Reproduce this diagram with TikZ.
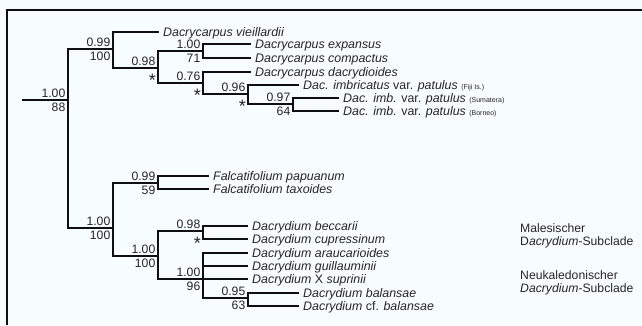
\documentclass[tikz,border=0pt]{standalone}
\usepackage{fontspec}
\setmainfont{Liberation Sans}
\definecolor{bg}{RGB}{247,252,252}
\definecolor{ink}{RGB}{38,38,38}
\definecolor{edge}{RGB}{15,15,15}
\begin{document}
\begin{tikzpicture}[x=1pt,y=-1pt,
  branch/.style={line width=1.8pt, draw=edge, line join=miter, line cap=rect},
  frameline/.style={line width=2pt, draw=edge},
  taxon/.style={anchor=west, inner xsep=5pt, inner ysep=0pt, text height=12pt, text depth=3pt,
    font=\fontsize{12.4}{14}\selectfont\itshape, text=ink},
  toplab/.style={anchor=base east, inner sep=0pt, xshift=-2.5pt, yshift=2.5pt,
    font=\fontsize{12.2}{14}\selectfont, text=ink},
  botlab/.style={anchor=base east, inner sep=0pt, xshift=-2.5pt, yshift=-11pt,
    font=\fontsize{12.2}{14}\selectfont, text=ink},
  asterlab/.style={anchor=base east, inner sep=0pt, xshift=-2pt, yshift=-18pt,
    font=\fontsize{18}{18}\selectfont, text=ink},
  cladelab/.style={anchor=base west, inner sep=0pt, font=\fontsize{12.2}{14}\selectfont, text=ink}]
\newcommand\paren[1]{{\upshape\fontsize{7}{8}\selectfont #1}}
\useasboundingbox (0,0) rectangle (642,325);
\fill[bg] (0,0) rectangle (642,325);
% frame
\draw[frameline] (7,325) -- (7,10) -- (642,10);

% internal nodes
\coordinate (rootstub) at (23,100);
\coordinate (R) at (68,100);
\coordinate (A) at (113,49);
\coordinate (B) at (158,68);
\coordinate (C) at (203,51);
\coordinate (D) at (203,83);
\coordinate (E) at (248,94);
\coordinate (F) at (293,104);
\coordinate (G) at (113,228);
\coordinate (H) at (158,183);
\coordinate (I) at (158,256);
\coordinate (J) at (203,231);
\coordinate (K) at (203,279);
\coordinate (L) at (248,298);

% leaves
\node[taxon] (vie) at (158,32) {Dacrycarpus vieillardii};
\node[taxon] (exp) at (250,44) {Dacrycarpus expansus};
\node[taxon] (com) at (250,58) {Dacrycarpus compactus};
\node[taxon] (dac) at (250,72) {Dacrycarpus dacrydioides};
\node[taxon] (fij) at (298,85) {Dac. imbricatus \textup{var.} patulus \paren{(Fiji Is.)}};
\node[taxon] (sum) at (338,98) {Dac. imb. \textup{var.} patulus \paren{(Sumatera)}};
\node[taxon] (bor) at (338,111) {Dac. imb. \textup{var.} patulus \paren{(Borneo)}};
\node[taxon] (pap) at (208,176) {Falcatifolium papuanum};
\node[taxon] (tax) at (208,189) {Falcatifolium taxoides};
\node[taxon] (bec) at (247,226) {Dacrydium beccarii};
\node[taxon] (cup) at (247,239) {Dacrydium cupressinum};
\node[taxon] (ara) at (247,253) {Dacrydium araucarioides};
\node[taxon] (gui) at (247,266) {Dacrydium guillauminii};
\node[taxon] (sup) at (247,279) {Dacrydium \textup{X} suprinii};
\node[taxon] (bal) at (298,293) {Dacrydium balansae};
\node[taxon] (cfb) at (298,306) {Dacrydium \textup{cf.} balansae};

% branches
\draw[branch] (rootstub) -- (R);
\draw[branch] (R) |- (A);
\draw[branch] (R) |- (G);
\draw[branch] (A) |- (vie.west);
\draw[branch] (A) |- (B);
\draw[branch] (B) |- (C);
\draw[branch] (B) |- (D);
\draw[branch] (C) |- (exp.west);
\draw[branch] (C) |- (com.west);
\draw[branch] (D) |- (dac.west);
\draw[branch] (D) |- (E);
\draw[branch] (E) |- (fij.west);
\draw[branch] (E) |- (F);
\draw[branch] (F) |- (sum.west);
\draw[branch] (F) |- (bor.west);
\draw[branch] (G) |- (H);
\draw[branch] (G) |- (I);
\draw[branch] (H) |- (pap.west);
\draw[branch] (H) |- (tax.west);
\draw[branch] (I) |- (J);
\draw[branch] (I) |- (K);
\draw[branch] (J) |- (bec.west);
\draw[branch] (J) |- (cup.west);
\draw[branch] (K) |- (ara.west);
\draw[branch] (K) |- (gui.west);
\draw[branch] (K) -- (sup.west);
\draw[branch] (K) |- (L);
\draw[branch] (L) |- (bal.west);
\draw[branch] (L) |- (cfb.west);

% support values
\node[toplab] (R1) at (R) {1.00};  \node[botlab] (R2) at (R) {88};
\node[toplab] (A1) at (A) {0.99};  \node[botlab] (A2) at (A) {100};
\node[toplab] (B1) at (B) {0.98};  \node[asterlab] (B2) at (B) {*};
\node[toplab] (C1) at (C) {1.00};  \node[botlab] (C2) at (C) {71};
\node[toplab] (D1) at (D) {0.76};  \node[asterlab] (D2) at (D) {*};
\node[toplab] (E1) at (E) {0.96};  \node[asterlab] (E2) at (E) {*};
\node[toplab] (F1) at (F) {0.97};  \node[botlab] (F2) at (F) {64};
\node[toplab] (G1) at (G) {1.00};  \node[botlab] (G2) at (G) {100};
\node[toplab] (H1) at (H) {0.99};  \node[botlab] (H2) at (H) {59};
\node[toplab] (I1) at (I) {1.00};  \node[botlab] (I2) at (I) {100};
\node[toplab] (J1) at (J) {0.98};  \node[asterlab] (J2) at (J) {*};
\node[toplab] (K1) at (K) {1.00};  \node[botlab] (K2) at (K) {96};
\node[toplab] (L1) at (L) {0.95};  \node[botlab] (L2) at (L) {63};

% clade labels
\node[cladelab] (mal1) at (520,232) {Malesischer};
\node[cladelab] (mal2) at (520,245) {D\textit{acrydium}-Subclade};
\node[cladelab] (neu1) at (520,279) {Neukaledonischer};
\node[cladelab] (neu2) at (520,292) {\textit{Dacrydium}-Subclade};
\end{tikzpicture}
\end{document}
